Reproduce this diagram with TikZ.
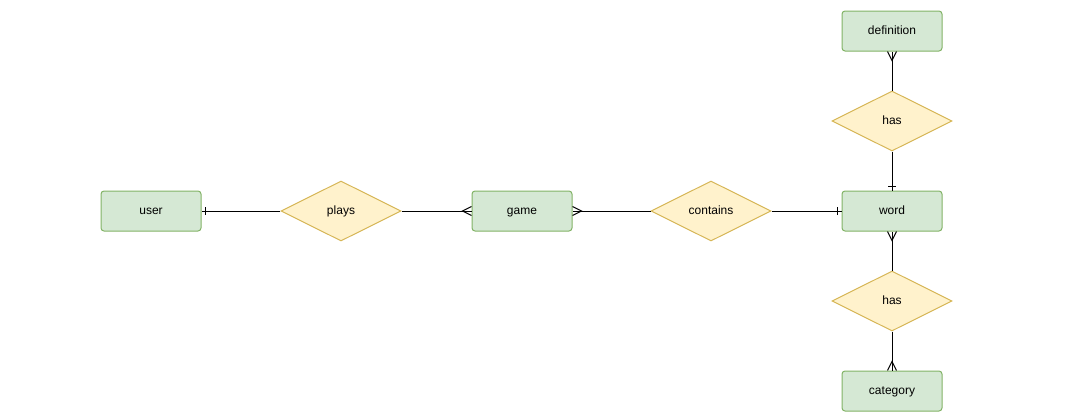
\documentclass[tikz,border=0pt]{standalone}
\usepackage{fontspec}
\setmainfont{Liberation Sans}
\usetikzlibrary{positioning,shapes.geometric,decorations.markings}
\definecolor{ERGreen}{HTML}{D5E8D4}
\definecolor{ERGreenLine}{HTML}{82B366}
\definecolor{ERYellow}{HTML}{FFF2CC}
\definecolor{ERYellowLine}{HTML}{D6B656}
\tikzstyle{entity} = [draw=ERGreenLine,fill=ERGreen,rounded corners=3pt,minimum width=100pt,minimum height=40pt,inner sep=0pt,line width=1pt,text height=9pt,text depth=3pt,font=\fontsize{12}{14}\selectfont]
\tikzstyle{relation} = [draw=ERYellowLine,fill=ERYellow,shape=diamond,shape aspect=2,minimum width=120pt,minimum height=60pt,inner sep=0pt,line width=1pt,text height=9pt,text depth=3pt,font=\fontsize{12}{14}\selectfont]
\tikzstyle{link} = [line width=1pt]
\tikzstyle{one} = [link,postaction={decorate,decoration={markings,mark=at position 1 with {\draw[link] (-4pt,-4pt) -- (-4pt,4pt);}}}]
\tikzstyle{many} = [link,postaction={decorate,decoration={markings,mark=at position 1 with {\draw[link] (0pt,-4.5pt) -- (-9pt,0pt) -- (0pt,4.5pt);}}}]

\begin{document}
\begin{tikzpicture}[x=1pt,y=-1pt]
	\useasboundingbox (0,0) rectangle (1065,415);
	
	\node[entity] (user) at (151,211) {user};
	\node[relation,right=79pt of user] (plays) {plays};
	\node[entity,right=70pt of plays] (game) {game};
	\node[relation,right=78pt of game] (contains) {contains};
	\node[entity,right=70pt of contains] (word) {word};
	
	\node[relation,above=39pt of word] (hasdef) {has};
	\node[entity,above=39pt of hasdef] (definition) {definition};
	\node[relation,below=39pt of word] (hascat) {has};
	\node[entity,below=39pt of hascat] (category) {category};
	
	\draw[one] (plays) -- (user);
	\draw[many] (plays) -- (game);
	\draw[many] (contains) -- (game);
	\draw[one] (contains) -- (word);
	\draw[one] (hasdef) -- (word);
	\draw[many] (hasdef) -- (definition);
	\draw[many] (hascat) -- (word);
	\draw[many] (hascat) -- (category);
\end{tikzpicture}
\end{document}
